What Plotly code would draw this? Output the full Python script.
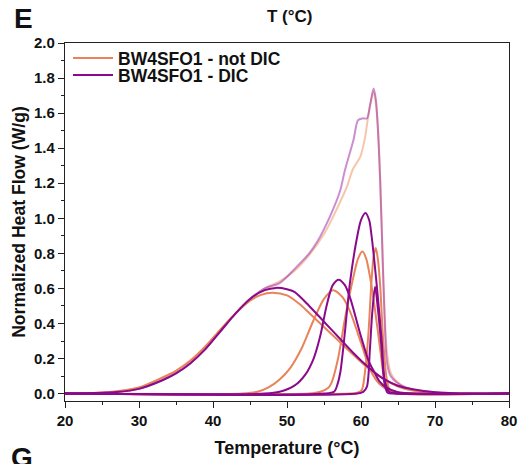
import plotly.graph_objects as go

# ---------------- data ----------------
# not DIC (orange) components
T_O1 = [20, 24, 27, 30, 33, 35, 37, 39, 41, 43, 45, 46.5, 48, 50, 52, 53, 55, 57, 59, 61, 63, 65, 67, 70, 75, 80]
H_O1 = [0, 0.004, 0.012, 0.035, 0.088, 0.13, 0.19, 0.27, 0.365, 0.455, 0.53, 0.563, 0.575, 0.56, 0.5, 0.46, 0.38, 0.3, 0.22, 0.145, 0.085, 0.04, 0.017, 0.005, 0, 0]

T_O2 = [20, 44, 46, 47.5, 49, 50.5, 52, 53.5, 55, 56.2, 57.5, 58.5, 60, 61.2, 62.5, 64, 66, 70, 80]
H_O2 = [0, 0, 0.01, 0.035, 0.08, 0.15, 0.26, 0.41, 0.54, 0.59, 0.55, 0.47, 0.29, 0.14, 0.055, 0.015, 0.003, 0, 0]

T_O3 = [20, 53, 54.5, 55.5, 56, 56.9, 57.8, 58.4, 59, 59.6, 60.2, 60.7, 61.2, 61.9, 62.6, 63.2, 64, 65, 80]
H_O3 = [0, 0, 0.01, 0.03, 0.06, 0.2, 0.42, 0.55, 0.67, 0.77, 0.81, 0.77, 0.67, 0.476, 0.25, 0.076, 0.01, 0, 0]

T_O4 = [20, 58.5, 59.5, 60.1, 60.5, 61.0, 61.4, 61.7, 62.0, 62.3, 62.6, 63.0, 63.5, 64, 65, 80]
H_O4 = [0, 0, 0.005, 0.02, 0.11, 0.34, 0.63, 0.78, 0.83, 0.76, 0.61, 0.30, 0.076, 0.01, 0, 0]

# DIC (purple) components
T_P1 = [20, 24, 27, 30, 33, 35, 37, 39, 41, 43, 45, 47, 48.5, 50, 51, 53, 55, 57, 59, 61, 63, 65, 67, 70, 75, 80]
H_P1 = [0, 0.003, 0.009, 0.027, 0.073, 0.115, 0.175, 0.255, 0.355, 0.455, 0.54, 0.59, 0.603, 0.595, 0.58, 0.5, 0.41, 0.32, 0.23, 0.15, 0.085, 0.045, 0.025, 0.008, 0, 0]

T_P2 = [20, 47, 49, 51, 52.5, 53.6, 54.5, 55.4, 56.2, 57, 57.8, 58.5, 59.9, 61, 61.7, 62.5, 63.4, 65, 68, 80]
H_P2 = [0, 0, 0.01, 0.045, 0.11, 0.2, 0.33, 0.51, 0.62, 0.65, 0.62, 0.55, 0.34, 0.19, 0.13, 0.07, 0.035, 0.008, 0, 0]

T_P3 = [20, 55, 56.4, 56.8, 57.2, 57.8, 58.5, 59.4, 60, 60.6, 61.1, 61.4, 62.1, 62.8, 63.2, 63.8, 65, 80]
H_P3 = [0, 0, 0.012, 0.05, 0.12, 0.34, 0.63, 0.876, 0.99, 1.03, 0.99, 0.91, 0.63, 0.30, 0.076, 0.01, 0, 0]

T_P4 = [20, 59.5, 60.3, 60.8, 61.2, 61.5, 61.9, 62.3, 62.8, 63.2, 63.6, 64.5, 80]
H_P4 = [0, 0, 0.01, 0.04, 0.25, 0.45, 0.61, 0.476, 0.25, 0.05, 0.005, 0, 0]

# cumulative (light) curves
T_OC = [20, 25, 30, 33, 35, 37, 39, 41, 43, 45, 47, 49, 51, 53, 55, 56.7, 58.1, 58.9, 59.9, 60.5, 60.9, 61.3, 61.7, 62.0, 62.3, 62.6, 62.9, 63.2, 63.5, 64, 64.8, 66, 68, 71, 75, 80]
H_OC = [0, 0.006, 0.035, 0.088, 0.13, 0.19, 0.27, 0.365, 0.455, 0.54, 0.6, 0.64, 0.70, 0.79, 0.91, 1.05, 1.18, 1.28, 1.35, 1.45, 1.56, 1.66, 1.72, 1.66, 1.5, 1.22, 0.82, 0.45, 0.24, 0.12, 0.07, 0.035, 0.015, 0.005, 0, 0]

T_PC = [20, 25, 30, 33, 35, 37, 39, 41, 43, 45, 47, 49, 51, 53, 54, 55.8, 57.2, 57.8, 59, 59.6, 60.2, 60.8, 61.2, 61.7, 62.0, 62.3, 62.6, 62.9, 63.2, 63.5, 64, 64.8, 66, 68, 71, 75, 80]
H_PC = [0, 0.004, 0.028, 0.073, 0.115, 0.175, 0.255, 0.355, 0.455, 0.54, 0.6, 0.63, 0.71, 0.80, 0.86, 1.01, 1.16, 1.27, 1.45, 1.56, 1.57, 1.57, 1.64, 1.74, 1.68, 1.5, 1.2, 0.8, 0.42, 0.18, 0.1, 0.065, 0.035, 0.015, 0.005, 0, 0]

X_TICKS = [20, 30, 40, 50, 60, 70, 80]
Y_TICKS = [0.0, 0.2, 0.4, 0.6, 0.8, 1.0, 1.2, 1.4, 1.6, 1.8, 2.0]

NAME_O = "BW4SFO1 - not DIC"
NAME_P = "BW4SFO1 - DIC"

# ---------------- styling ----------------
ORANGE = "#E8835A"
PURPLE = "#8A0A8C"
ORANGE_L = "rgba(238,160,115,0.6)"
PURPLE_L = "rgba(160,50,165,0.55)"
FONT = "Arial, Liberation Sans, sans-serif"

fig = go.Figure()

def add(x, y, color, width=2, name=None, legend=None, show=False):
    fig.add_trace(go.Scatter(
        x=x, y=y, mode="lines", name=name,
        line=dict(color=color, width=width, shape="spline", smoothing=0.8),
        showlegend=show, legend=legend, hoverinfo="skip"))

add(T_OC, H_OC, ORANGE_L, 2)
add(T_PC, H_PC, PURPLE_L, 2)
add(T_O1, H_O1, ORANGE, 2, NAME_O, "legend", True)
for tx, hy in [(T_O2, H_O2), (T_O3, H_O3), (T_O4, H_O4)]:
    add(tx, hy, ORANGE, 2)
add(T_P1, H_P1, PURPLE, 2, NAME_P, "legend2", True)
for tx, hy in [(T_P2, H_P2), (T_P3, H_P3), (T_P4, H_P4)]:
    add(tx, hy, PURPLE, 2)

axis_common = dict(
    showline=True, linecolor="#222", linewidth=1.2, mirror=True,
    ticks="outside", ticklen=6, tickwidth=1.2, tickcolor="#222",
    showgrid=False, zeroline=False, automargin=False,
    tickfont=dict(family=FONT, size=15, color="#111", weight="bold"),
)

fig.update_xaxes(
    range=[20, 80], tickvals=X_TICKS, ticktext=[str(v) for v in X_TICKS],
    minor=dict(ticks="outside", ticklen=3, dtick=5, tickcolor="#222", tickwidth=1.2, showgrid=False),
    title=dict(text="Temperature (°C)", font=dict(family=FONT, size=18, color="#111", weight="bold"), standoff=13),
    **axis_common)
fig.update_yaxes(
    range=[-0.0423, 2.0], tickvals=Y_TICKS, ticktext=[f"{v:.1f}" for v in Y_TICKS],
    minor=dict(ticks="outside", ticklen=3, dtick=0.1, tick0=0, tickcolor="#222", tickwidth=1.2, showgrid=False),
    title=dict(text="Normalized Heat Flow (W/g)", font=dict(family=FONT, size=17.6, color="#111", weight="bold"), standoff=3),
    **axis_common)

leg_common = dict(
    xanchor="left", yanchor="middle", bgcolor="rgba(0,0,0,0)",
    font=dict(family=FONT, size=17.5, color="#111", weight="bold"),
    itemwidth=40, borderwidth=0, tracegroupgap=0,
)
fig.update_layout(
    width=521, height=464,
    margin=dict(l=65, r=12, t=43, b=63),
    paper_bgcolor="white", plot_bgcolor="white",
    legend=dict(x=3 / 444, y=(400.7 - 58) / 357.7, **leg_common),
    legend2=dict(x=3 / 444, y=(400.7 - 75) / 357.7, **leg_common),
    annotations=[
        dict(text="<b>E</b>", xref="paper", yref="paper", x=(12 - 65) / 444, y=(400.7 - 19) / 357.7,
             xanchor="left", yanchor="middle", showarrow=False,
             font=dict(family=FONT, size=28, color="#111")),
        dict(text="<b>T (°C)</b>", xref="paper", yref="paper", x=(290 - 65) / 444, y=(400.7 - 17) / 357.7,
             xanchor="center", yanchor="middle", showarrow=False,
             font=dict(family=FONT, size=17, color="#111")),
        dict(text="<b>G</b>", xref="paper", yref="paper", x=(9 - 65) / 444, y=(400.7 - 440) / 357.7,
             xanchor="left", yanchor="top", showarrow=False,
             font=dict(family=FONT, size=28, color="#111")),
    ],
)

fig.write_html("out.html")
